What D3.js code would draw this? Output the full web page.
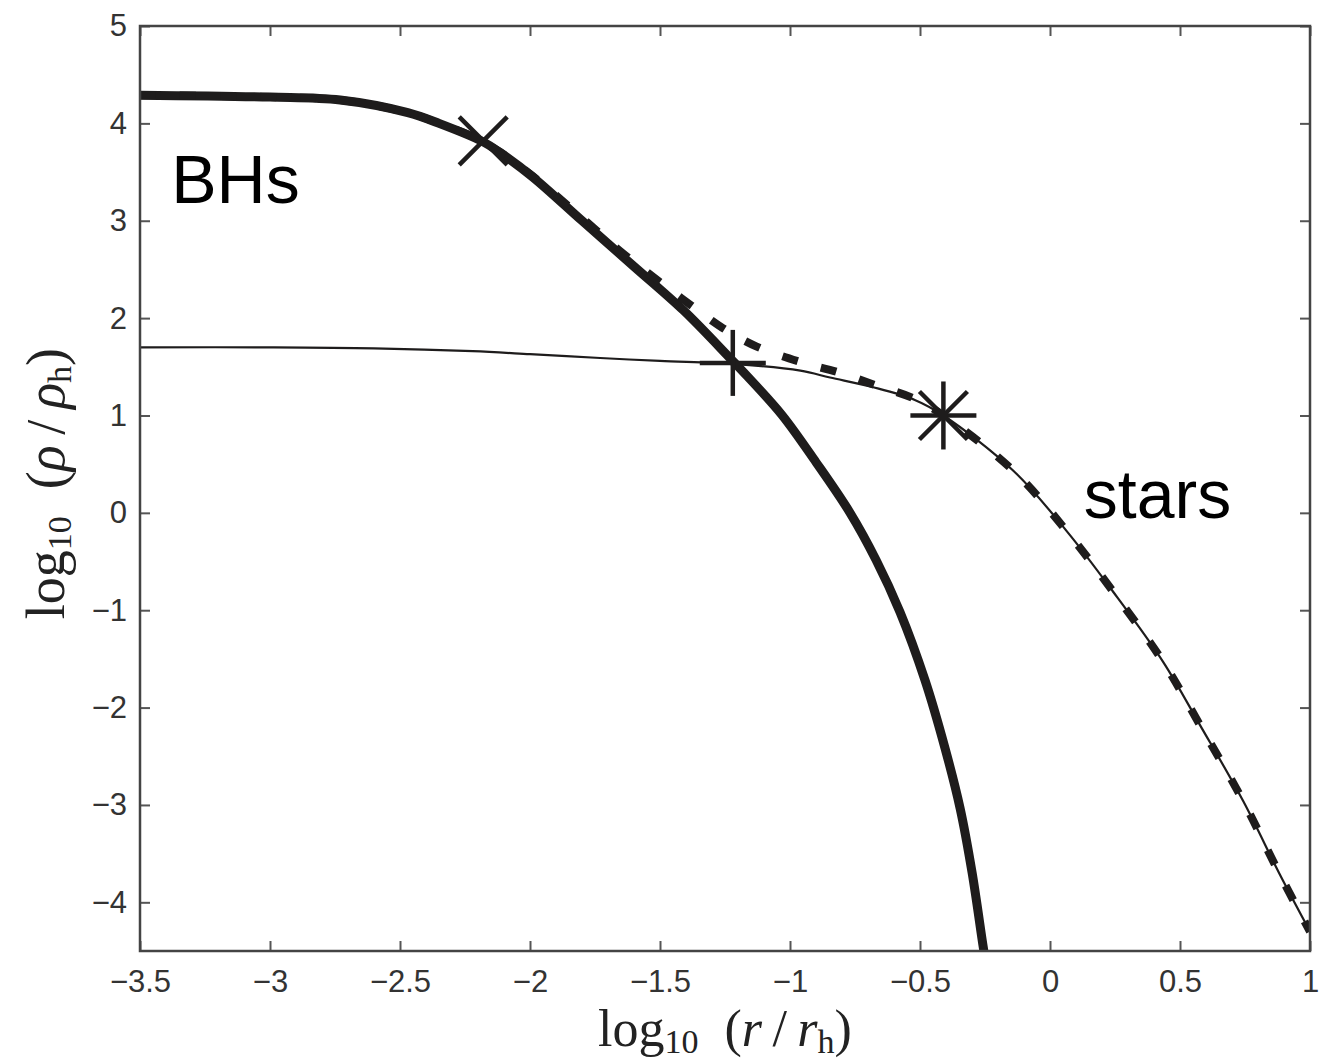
<!DOCTYPE html>
<html>
<head>
<meta charset="utf-8">
<script src="https://cdn.jsdelivr.net/npm/d3@7"></script>
<style>
  body { margin: 0; background: #fff; }
</style>
</head>
<body>
<div id="chart"></div>
<script>
// values: [log10(r/rh), log10(rho/rhoh)]
var bhCurve = [[-3.5,4.29],[-3.0,4.27],[-2.73,4.24],[-2.47,4.11],[-2.35,4.0],[-2.18,3.81],[-2.115,3.70],
  [-1.99,3.45],[-1.80,3.00],[-1.60,2.53],[-1.41,2.08],[-1.231,1.59],[-1.165,1.405],[-1.031,1.005],
  [-0.90,0.52],[-0.769,0.0],[-0.669,-0.484],[-0.577,-1.018],[-0.481,-1.717],[-0.404,-2.415],[-0.346,-3.031],
  [-0.300,-3.689],[-0.258,-4.438],[-0.246,-4.643]];
var starCurve = [[-3.5,1.70],[-3.0,1.70],[-2.6,1.69],[-2.22,1.66],[-2.0,1.63],[-1.73,1.59],[-1.5,1.56],
  [-1.22,1.53],[-0.96,1.46],[-0.846,1.39],[-0.68,1.29],[-0.52,1.16],[-0.41,1.0],[-0.14,0.43],[0.065,-0.19],
  [0.24,-0.8],[0.435,-1.53],[0.577,-2.18],[0.743,-2.96],[0.885,-3.72],[1.0,-4.3]];
var totalCurve = [[-3.5,4.29],[-3.0,4.27],[-2.73,4.24],[-2.47,4.11],[-2.35,4.0],[-2.18,3.81],[-2.0,3.48],
  [-1.8,3.03],[-1.65,2.68],[-1.5,2.37],[-1.38,2.13],[-1.26,1.90],[-1.13,1.71],[-0.96,1.55],[-0.81,1.44],
  [-0.67,1.31],[-0.52,1.17],[-0.41,1.0],[-0.14,0.43],[0.065,-0.19],[0.24,-0.8],[0.435,-1.53],[0.577,-2.18],
  [0.743,-2.96],[0.885,-3.72],[1.0,-4.3]];

var crossMark = [-2.18, 3.82];
var plusMark = [-1.22, 1.54];
var starMark = [-0.41, 1.0];

var xTicks = [-3.5,-3,-2.5,-2,-1.5,-1,-0.5,0,0.5,1];
var yTicks = [-4,-3,-2,-1,0,1,2,3,4,5];

var W = 1334, H = 1064;
var margin = {top: 26, right: 24, bottom: 113, left: 140};
var width = W - margin.left - margin.right,
    height = H - margin.top - margin.bottom;

var svg = d3.select("#chart").append("svg")
  .attr("width", W).attr("height", H);

var g = svg.append("g")
  .attr("transform", "translate(" + margin.left + "," + margin.top + ")");

var x = d3.scaleLinear().domain([-3.5, 1]).range([0, width]);
var y = d3.scaleLinear().domain([-4.5, 5]).range([height, 0]);

var fmt = function(d) { return d3.format("")(d).replace("-", "\u2212"); };

// clip for curves
svg.append("defs").append("clipPath").attr("id", "clip")
  .append("rect").attr("width", width).attr("height", height);

var line = d3.line()
  .x(function(d) { return x(d[0]); })
  .y(function(d) { return y(d[1]); })
  .curve(d3.curveCatmullRom.alpha(0.5));

var plot = g.append("g").attr("clip-path", "url(#clip)");

plot.append("path").datum(starCurve)
  .attr("d", line).attr("fill", "none")
  .attr("stroke", "#1e1c1c").attr("stroke-width", 2.2);

plot.append("path").datum(bhCurve)
  .attr("d", line).attr("fill", "none")
  .attr("stroke", "#1e1c1c").attr("stroke-width", 9);

plot.append("path").datum(totalCurve)
  .attr("d", line).attr("fill", "none")
  .attr("stroke", "#1e1c1c").attr("stroke-width", 8)
  .attr("stroke-dasharray", "16,24");

// axes, ticks inside on all four sides
var tickLen = 10;
var axStyle = function(sel) {
  sel.select(".domain").remove();
  sel.selectAll(".tick line").attr("stroke", "#555").attr("stroke-width", 2);
  sel.selectAll(".tick text").style("font-family", "'Liberation Sans', Arial, sans-serif")
    .style("font-size", "31px").attr("fill", "#333");
};

g.append("g").attr("transform", "translate(0," + height + ")")
  .call(d3.axisBottom(x).tickValues(xTicks).tickSize(-tickLen).tickPadding(19).tickFormat(fmt))
  .call(axStyle);
g.append("g")
  .call(d3.axisTop(x).tickValues(xTicks).tickSize(-tickLen).tickFormat(""))
  .call(axStyle);
g.append("g")
  .call(d3.axisLeft(y).tickValues(yTicks).tickSize(-tickLen).tickPadding(13).tickFormat(fmt))
  .call(axStyle);
g.append("g").attr("transform", "translate(" + width + ",0)")
  .call(d3.axisRight(y).tickValues(yTicks).tickSize(-tickLen).tickFormat(""))
  .call(axStyle);

g.append("rect").attr("width", width).attr("height", height)
  .attr("fill", "none").attr("stroke", "#444").attr("stroke-width", 2.5);

// markers
var mk = g.append("g").attr("stroke", "#1e1c1c").attr("stroke-width", 4.5).attr("fill", "none");
function seg(cx, cy, dx, dy) {
  mk.append("line").attr("x1", cx - dx).attr("y1", cy - dy).attr("x2", cx + dx).attr("y2", cy + dy);
}
var cx = x(crossMark[0]), cy = y(crossMark[1]);
seg(cx, cy, 24, 24); seg(cx, cy, 24, -24);
cx = x(plusMark[0]); cy = y(plusMark[1]);
seg(cx, cy, 33, 0); seg(cx, cy, 0, 33);
cx = x(starMark[0]); cy = y(starMark[1]);
seg(cx, cy, 33, 0); seg(cx, cy, 0, 34); seg(cx, cy, 24, 24); seg(cx, cy, 24, -24);

// curve labels
var sans = "'Liberation Sans', Arial, sans-serif";
g.append("text").attr("x", x(-3.38)).attr("y", y(3.18))
  .style("font-family", sans).style("font-size", "68px")
  .attr("fill", "#000").text("BHs");
g.append("text").attr("x", x(0.13)).attr("y", y(-0.05))
  .style("font-family", sans).style("font-size", "68px")
  .attr("fill", "#000").text("stars");

// axis labels
var serif = "'Liberation Serif', 'DejaVu Serif', serif";
function mathLabel(t, sym) {
  t.append("tspan").text("log");
  t.append("tspan").attr("dy", 7).style("font-size", "34px").text("10");
  t.append("tspan").attr("dy", -7).text("\u2002(");
  t.append("tspan").style("font-style", "italic").text(sym);
  t.append("tspan").text("\u2009/\u2009");
  t.append("tspan").style("font-style", "italic").text(sym);
  t.append("tspan").attr("dy", 7).style("font-size", "34px").text("h");
  t.append("tspan").attr("dy", -7).text(")");
}
var xl = svg.append("text").attr("x", margin.left + x(-1.25)).attr("y", 1046)
  .attr("text-anchor", "middle").style("font-family", serif).style("font-size", "52px")
  .attr("fill", "#222");
mathLabel(xl, "r");

var yl = svg.append("text").attr("transform", "translate(64," + (margin.top + y(0.3)) + ") rotate(-90)")
  .attr("text-anchor", "middle").style("font-family", serif).style("font-size", "54px")
  .attr("fill", "#222");
mathLabel(yl, "\u03c1");
</script>
</body>
</html>
